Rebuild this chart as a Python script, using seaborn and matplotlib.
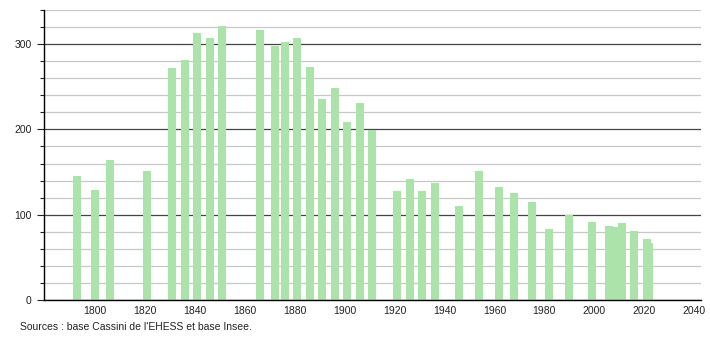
import matplotlib
matplotlib.use("Agg")
import matplotlib.pyplot as plt
import seaborn as sns
import pandas as pd
import numpy as np

years = [1793, 1800, 1806, 1821, 1831, 1836, 1841, 1846, 1851, 1866, 1872, 1876,
         1881, 1886, 1891, 1896, 1901, 1906, 1911, 1921, 1926, 1931, 1936, 1946,
         1954, 1962, 1968, 1975, 1982, 1990, 1999, 2006, 2008, 2011, 2016, 2021, 2022]
population = [145, 129, 164, 151, 272, 281, 313, 307, 321, 316, 298, 303,
              307, 273, 236, 248, 209, 231, 199, 128, 142, 128, 137, 110,
              151, 132, 126, 115, 83, 100, 91, 87, 86, 90, 81, 72, 67]
x_ticks = [1800, 1820, 1840, 1860, 1880, 1900, 1920, 1940, 1960, 1980, 2000, 2020, 2040]
y_ticks = [0, 100, 200, 300]
source_text = "Sources : base Cassini de l'EHESS et base Insee."

sns.set_style("white")
plt.rcParams['font.family'] = ['Liberation Sans', 'DejaVu Sans']

df = pd.DataFrame({"year": years, "pop": population})

fig = plt.figure(figsize=(7.1, 3.4), dpi=100)
ax = fig.add_axes([44 / 710, 40 / 340, (700.7 - 44) / 710, 290 / 340])

sns.barplot(data=df, x="year", y="pop", native_scale=True, width=3.2,
            color="#abe3ab", saturation=1, edgecolor="none", linewidth=0, ax=ax)

ax.set_xlim(1779.6, 2042.6)
ax.set_ylim(0, 340)
ax.set_xticks(x_ticks)
ax.set_xticklabels([str(t) for t in x_ticks])
ax.set_yticks(y_ticks)
ax.set_yticks(np.arange(0, 341, 20), minor=True)
ax.set_xlabel("")
ax.set_ylabel("")

ax.set_axisbelow(True)
ax.yaxis.grid(True, which="minor", color="#c8c8c8", linewidth=0.9)
ax.yaxis.grid(True, which="major", color="#444444", linewidth=0.9)
ax.xaxis.grid(False)

for s in ["top", "right"]:
    ax.spines[s].set_visible(False)
for s in ["left", "bottom"]:
    ax.spines[s].set_color("black")
    ax.spines[s].set_linewidth(1.0)

ax.tick_params(axis="x", length=0, pad=4, labelsize=7.5, colors="#222222")
ax.tick_params(axis="y", which="major", length=5, width=0.8, pad=4, labelsize=7.5, colors="#222222", left=True)
ax.tick_params(axis="y", which="minor", length=3, width=0.8, left=True, color="#222222")

fig.text(20 / 710, 1 - 327 / 340, source_text, fontsize=7.5, color="#222222", va="center", ha="left")

fig.savefig("out.png", dpi=100)
